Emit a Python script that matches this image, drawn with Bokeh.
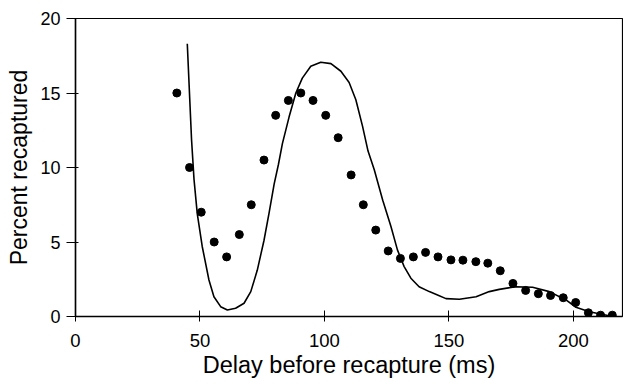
from bokeh.plotting import figure
from bokeh.models import Range1d, FixedTicker
from bokeh.embed import file_html
from bokeh.resources import INLINE

# Observed data (dots)
delay_obs = [40.7, 45.8, 50.5, 55.7, 60.7, 65.8, 70.6, 75.7, 80.4, 85.5, 90.5, 95.4,
             100.5, 105.5, 110.7, 115.6, 120.6, 125.6, 130.5, 135.7, 140.6, 145.6,
             150.8, 155.6, 160.8, 165.6, 170.6, 175.7, 180.8, 185.9, 190.8, 195.9,
             200.9, 206.0, 210.9, 215.6]
pct_obs = [15.0, 10.0, 7.0, 5.0, 4.0, 5.5, 7.5, 10.5, 13.5, 14.5, 15.0, 14.5,
           13.5, 12.0, 9.5, 7.5, 5.8, 4.4, 3.9, 4.0, 4.3, 4.0,
           3.8, 3.78, 3.68, 3.58, 3.07, 2.22, 1.75, 1.53, 1.41, 1.26,
           0.94, 0.25, 0.09, 0.09]

# Model curve
delay_fit = [44.9, 46.6, 47.6, 48.9, 50.9, 53.6, 55.6, 58.3, 61.0, 64.3, 67.7, 70.4,
             73.0, 75.7, 77.7, 79.8, 81.5, 83.1, 85.8, 88.5, 91.1, 94.5, 98.5, 102.6,
             106.6, 109.9, 112.6, 115.3, 117.5, 120.0, 123.4, 126.7, 129.3, 132.0,
             134.7, 138.0, 142.1, 145.4, 148.8, 154.2, 160.9, 166.2, 170.2, 176.9,
             183.6, 190.3, 197.0, 201.0, 206.4, 215.8]
pct_fit = [18.3, 11.9, 9.2, 6.9, 4.7, 2.45, 1.33, 0.66, 0.44, 0.55, 0.89, 1.67,
           3.1, 5.1, 6.9, 8.9, 10.2, 11.6, 13.4, 15.0, 16.0, 16.8, 17.06, 16.97,
           16.46, 15.7, 14.55, 12.76, 11.1, 9.85, 7.8, 6.04, 4.47, 3.35,
           2.57, 2.0, 1.67, 1.45, 1.2, 1.16, 1.33, 1.67, 1.82, 2.0,
           1.96, 1.67, 1.11, 0.62, 0.32, 0.0]

x_ticks = [0, 50, 100, 150, 200]
y_ticks = [0, 5, 10, 15, 20]

FONT = "Liberation Sans"

p = figure(width=623, height=384, output_backend="svg", toolbar_location=None,
           x_range=Range1d(0, 219.7), y_range=Range1d(0, 20),
           min_border_left=75, min_border_right=1, min_border_top=18, min_border_bottom=68)

p.line(delay_fit, pct_fit, line_color="black", line_width=1.6)
p.scatter(delay_obs, pct_obs, size=8, fill_color="black", line_color="black")

p.xgrid.visible = False
p.ygrid.visible = False
p.outline_line_color = "black"
p.outline_line_width = 1.2

p.xaxis.ticker = FixedTicker(ticks=x_ticks)
p.yaxis.ticker = FixedTicker(ticks=y_ticks)
for ax in (p.xaxis, p.yaxis):
    ax.axis_line_color = "black"
    ax.axis_line_width = 1.5
    ax.major_tick_line_color = "black"
    ax.major_tick_line_width = 1
    ax.minor_tick_line_color = None
    ax.major_label_text_font = FONT
    ax.major_label_text_color = "black"
    ax.axis_label_text_font = FONT
    ax.axis_label_text_font_style = "normal"
    ax.axis_label_text_color = "black"

p.xaxis.major_tick_in = 6
p.xaxis.major_tick_out = 5
p.yaxis.major_tick_in = 3
p.yaxis.major_tick_out = 9

p.xaxis.major_label_text_font_size = "18.5px"
p.yaxis.major_label_text_font_size = "18px"
p.xaxis.major_label_standoff = 12
p.yaxis.major_label_standoff = 6

p.xaxis.axis_label = "Delay before recapture (ms)"
p.yaxis.axis_label = "Percent recaptured"
p.xaxis.axis_label_text_font_size = "23.5px"
p.yaxis.axis_label_text_font_size = "23px"
p.xaxis.axis_label_standoff = 2
p.yaxis.axis_label_standoff = 5

open("out.html", "w").write(file_html(p, INLINE))
